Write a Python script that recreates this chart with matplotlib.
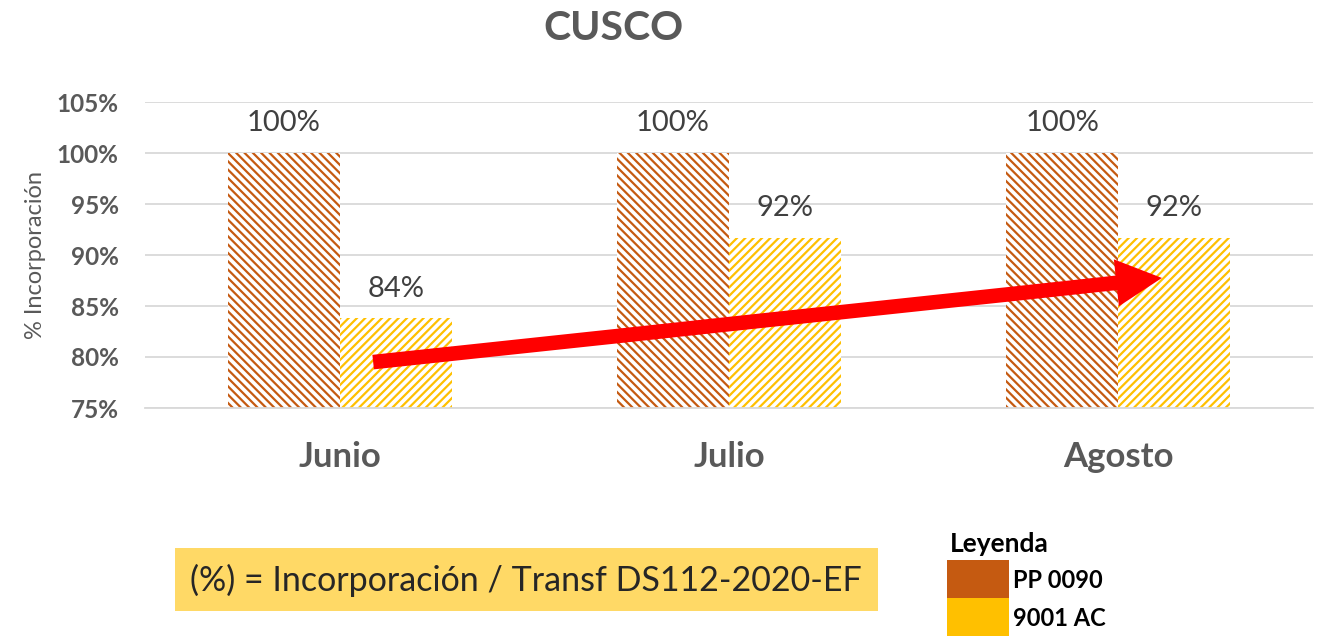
import matplotlib.pyplot as plt
import matplotlib.patches as mpatches
import numpy as np

plt.rcParams['font.family'] = ['Lato', 'DejaVu Sans']
plt.rcParams['hatch.linewidth'] = 1.6

meses = ['Junio', 'Julio', 'Agosto']
pp0090 = [100, 100, 100]
ac9001 = [83.8, 91.7, 91.7]
etiquetas_pp = ['100%', '100%', '100%']
etiquetas_ac = ['84%', '92%', '92%']
yticks = [75, 80, 85, 90, 95, 100, 105]

col_pp = '#C55A11'
col_ac = '#FFC000'

fig = plt.figure(figsize=(13.2, 6.36), dpi=100)
ax = fig.add_axes([145 / 1320, 1 - 408 / 636, 1168 / 1320, 306 / 636])

x = np.arange(len(meses))
w = 0.288
ax.bar(x - w / 2, np.array(pp0090) - 75, w, bottom=75, color='white',
       edgecolor=col_pp, hatch='\\\\\\\\', linewidth=0, zorder=2)
ax.bar(x + w / 2, np.array(ac9001) - 75, w, bottom=75, color='white',
       edgecolor=col_ac, hatch='////', linewidth=0, zorder=2)

for i in range(len(meses)):
    ax.text(x[i] - w / 2, pp0090[i] + 2.9, etiquetas_pp[i], ha='center', va='center',
            fontsize=21, color='#404040')
    ax.text(x[i] + w / 2, ac9001[i] + 2.9, etiquetas_ac[i], ha='center', va='center',
            fontsize=21, color='#404040')

ax.set_xlim(-0.5, 2.5)
ax.set_ylim(75, 105)
ax.set_yticks(yticks)
ax.set_yticklabels([f'{t}%' for t in yticks], fontsize=17.5, fontweight='bold', color='#595959')
ax.set_xticks(x)
ax.set_xticklabels(meses, fontsize=25, fontweight='bold', color='#595959')
ax.tick_params(axis='y', length=0, pad=19)
ax.tick_params(axis='x', length=0, pad=24)
ax.grid(axis='y', color='#D9D9D9', linewidth=1.3, zorder=0)
for s in ['top', 'right', 'left']:
    ax.spines[s].set_visible(False)
ax.spines['bottom'].set_color('#D9D9D9')
ax.spines['bottom'].set_linewidth(1.3)
ax.set_ylabel('% Incorporación', fontsize=17, color='#595959', labelpad=7.5)

# flecha de tendencia
ax.annotate('', xy=(2.112, 87.75), xytext=(0.086, 79.5),
            arrowprops=dict(arrowstyle='simple,head_width=3.4,head_length=3.3,tail_width=1.05',
                            color='#FF0000', lw=0, shrinkA=0, shrinkB=0),
            zorder=5, annotation_clip=False)

fig.text(613 / 1320, 1 - 28 / 636, 'CUSCO', ha='center', va='center',
         fontsize=29.5, fontweight='bold', color='#595959')

# caja de formula
fig.patches.append(mpatches.Rectangle((175 / 1320, 1 - 611 / 636), 703 / 1320, 63 / 636,
                                      transform=fig.transFigure, facecolor='#FFD966',
                                      edgecolor='none'))
fig.text(526 / 1320, 1 - 580 / 636, '(%) = Incorporación / Transf DS112-2020-EF',
         ha='center', va='center', fontsize=24.5, color='#262626')

# leyenda
fig.text(950 / 1320, 1 - 544 / 636, 'Leyenda', ha='left', va='center',
         fontsize=19, fontweight='bold', color='black')
fig.patches.append(mpatches.Rectangle((947 / 1320, 1 - 598 / 636), 62 / 1320, 38 / 636,
                                      transform=fig.transFigure, facecolor=col_pp, edgecolor='none'))
fig.patches.append(mpatches.Rectangle((947 / 1320, 1 - 636 / 636), 62 / 1320, 38 / 636,
                                      transform=fig.transFigure, facecolor=col_ac, edgecolor='none'))
fig.text(1013 / 1320, 1 - 580 / 636, 'PP 0090', ha='left', va='center',
         fontsize=17, fontweight='bold', color='black')
fig.text(1013 / 1320, 1 - 618 / 636, '9001 AC', ha='left', va='center',
         fontsize=17, fontweight='bold', color='black')

fig.savefig('out.png', dpi=100)
